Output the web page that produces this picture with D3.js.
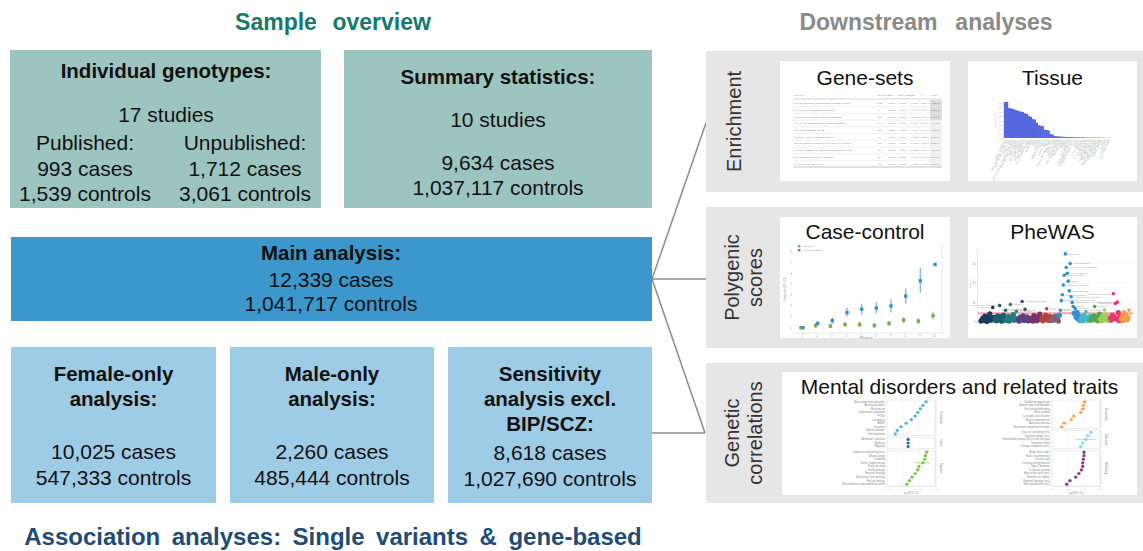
<!DOCTYPE html>
<html>
<head>
<meta charset="utf-8">
<script src="https://cdn.jsdelivr.net/npm/d3@7"></script>
<style>
body { margin: 0; background: #fff; }
svg { display: block; font-family: "Liberation Sans", Arial, sans-serif; }
</style>
</head>
<body>
<div id="container"></div>
<script>
var width = 1143;
var height = 551;

// ---- sample overview texts ----
var genotypeStudies = "17 studies";
var genotypeCols = [
    ["Published:", "993 cases", "1,539 controls"],
    ["Unpublished:", "1,712 cases", "3,061 controls"]
];
var summaryLines = ["10 studies", "9,634 cases", "1,037,117 controls"];
var mainLines = ["12,339 cases", "1,041,717 controls"];
var subTitles = [["Female-only", "analysis:"], ["Male-only", "analysis:"], ["Sensitivity", "analysis excl.", "BIP/SCZ:"]];
var subCounts = [["10,025 cases", "547,333 controls"], ["2,260 cases", "485,444 controls"], ["8,618 cases", "1,027,690 controls"]];

// ---- downstream panels ----
var panelLabels = [["Enrichment"], ["Polygenic", "scores"], ["Genetic", "correlations"]];
var thumbTitles = ["Gene-sets", "Tissue", "Case-control", "PheWAS", "Mental disorders and related traits"];

// gene-set table
var geneSetHeader = ["Gene set", "N genes", "BETA", "BETA STD", "SE", "P", "P bon"];
var geneSetNames = ["GO_CC_NEURON_PROJECTION_POSTSYNAPSE", "GO_BP_SYNAPSE_ORGANIZATION", "GO_CC_SYNAPTIC_MEMBRANE_REGION",
    "GO_MF_TRANSCRIPTION_FACTOR_BINDING", "GO_CC_DENDRITE_SPINE", "GO_BP_AXON_GUIDANCE_SIGNAL",
    "GO_BP_REGULATION_OF_SYNAPTIC_PLASTICITY", "GO_BP_FOREBRAIN_NEURON_DIFFERENTIATION", "REACTOME_NEURONAL_SYSTEM", "GO_CC_SYNAPSE_PART"];
var geneSetN = [382, 96, 211, 48, 152, 61, 118, 77, 27, 540];
var geneSetBeta = [0.2114, 0.3988, 0.2512, 0.4631, 0.2207, 0.3405, 0.2419, 0.2873, 0.5102, 0.1199];
var geneSetP = [2.1e-7, 4.5e-7, 9.8e-7, 2.4e-6, 3.9e-6, 5.2e-6, 7.7e-6, 9.1e-6, 1.2e-5, 1.6e-5];

// tissue enrichment (-log10 P), GTEx tissues
var tissueNames = ["Brain_Cerebellum", "Brain_Cerebellar_Hemisphere", "Brain_Frontal_Cortex_BA9", "Brain_Cortex",
    "Brain_Anterior_cingulate_cortex_BA24", "Brain_Nucleus_accumbens", "Brain_Caudate", "Brain_Putamen", "Brain_Hypothalamus",
    "Brain_Amygdala", "Brain_Hippocampus", "Brain_Spinal_cord", "Brain_Substantia_nigra", "Pituitary", "Nerve_Tibial", "Testis",
    "Ovary", "Uterus", "Cervix_Ectocervix", "Cervix_Endocervix", "Vagina", "Adrenal_Gland", "Thyroid", "Breast_Mammary_Tissue",
    "Artery_Tibial", "Artery_Aorta", "Artery_Coronary", "Adipose_Subcutaneous", "Adipose_Visceral", "Fallopian_Tube", "Bladder",
    "Prostate", "Colon_Sigmoid", "Esophagus_Muscularis", "Esophagus_GE_Junction", "Minor_Salivary_Gland", "Lung", "Spleen",
    "Small_Intestine", "Stomach", "Colon_Transverse", "Kidney_Cortex", "Kidney_Medulla", "Esophagus_Mucosa", "Skin_Sun_Exposed",
    "Skin_Not_Sun_Exposed", "Heart_Atrial_Appendage", "Heart_Left_Ventricle", "Cells_fibroblasts", "Muscle_Skeletal", "Liver",
    "Pancreas", "Whole_Blood", "Cells_lymphocytes"];
var tissueLogP = [4.1, 4.1, 3.4, 3.36, 3.3, 3.2, 3.15, 3.05, 3.0, 2.95, 2.8, 2.75, 2.5, 2.4, 2.15, 2.1, 1.75, 1.45, 1.4, 1.35,
    0.95, 0.9, 0.85, 0.45, 0.4, 0.22, 0.2, 0.18, 0.16, 0.14, 0.13, 0.12, 0.1, 0.1, 0.09, 0.09, 0.08, 0.08, 0.07, 0.07, 0.06,
    0.06, 0.05, 0.05, 0.05, 0.04, 0.04, 0.04, 0.03, 0.03, 0.03, 0.02, 0.02, 0.01];

// case-control: odds ratio by PRS decile
var deciles = [1, 2, 3, 4, 5, 6, 7, 8, 9, 10];
var ccLegend = ["Population", "Psychiatric cases"];
var orGreen = [1, 1.2, 1.15, 1.3, 1.3, 1.2, 1.4, 1.7, 1.6, 2.1];
var orGreenLo = [1, 1.0, 0.95, 1.1, 1.05, 1.0, 1.15, 1.4, 1.35, 1.75];
var orGreenHi = [1, 1.45, 1.4, 1.5, 1.55, 1.45, 1.65, 2.0, 1.9, 2.45];
var orBlue = [1, 1.4, 1.65, 2.4, 2.7, 2.8, 3.0, 3.9, 5.3, 6.8];
var orBlueLo = [1, 1.25, 1.35, 2.0, 2.2, 2.3, 2.4, 3.2, 4.2, 6.75];
var orBlueHi = [1, 1.55, 1.95, 2.85, 3.2, 3.35, 3.6, 4.6, 6.5, 6.85];

// PheWAS: -log10 P per phenotype, by category
var phewasCategories = ["infectious", "neoplasms", "endocrine", "hematopoietic", "neurological", "sense organs", "circulatory",
    "mental disorders", "respiratory", "digestive", "genitourinary", "musculoskeletal", "symptoms"];
var phewasValues = [
    [0.5, 1.2, 2.1, 0.8, 3.0, 1.6, 0.3, 2.6, 1.1, 4.2, 0.9, 1.8, 7.5, 2.4],
    [1.0, 2.2, 0.6, 3.1, 1.5, 8.5, 2.8, 0.4, 1.9, 3.6, 1.2, 6.0],
    [0.7, 1.8, 2.9, 0.5, 9.0, 1.4, 2.3, 3.8, 0.9, 2.0, 5.5, 1.1],
    [1.3, 0.4, 2.5, 1.9, 10.5, 3.2, 0.8, 6.5, 1.6, 2.7, 0.6, 1.0],
    [0.9, 2.0, 1.4, 0.5, 3.3, 1.8, 2.6, 0.7, 1.2, 2.2, 4.0, 1.5],
    [1.6, 0.6, 2.4, 1.1, 3.5, 6.8, 1.9, 0.8, 2.9, 1.3],
    [0.8, 1.7, 2.6, 1.0, 3.0, 1.4, 2.1, 0.5],
    [3.5, 6, 11, 14, 19, 24, 35, 28, 25, 21, 16, 30, 13, 10, 8, 4.5, 7, 2.5, 5, 1.5, 3, 0.8],
    [1.2, 2.5, 0.6, 3.4, 1.8, 5.2, 2.2, 0.9, 1.5, 2.8],
    [0.9, 2.1, 1.5, 3.2, 8.0, 1.2, 2.6, 0.7, 1.9, 4.1],
    [1.5, 0.6, 2.8, 1.9, 6.2, 1.1, 3.5, 2.3, 0.8, 1.6],
    [2.0, 1.0, 3.6, 14.5, 2.5, 9.5, 1.6, 10.2, 4.8, 0.7, 2.9],
    [1.4, 2.6, 0.8, 4.6, 1.9, 3.3, 1.1, 2.2, 6.0]
];
var phewasTopNames = ["Depression", "Mood disorders", "Major depressive disorder", "Anxiety disorder", "Suicidal ideation",
    "Bipolar", "Tobacco use disorder", "Sleep disorders", "Psychogenic disorder", "Substance addiction", "Alcohol-related disorders",
    "Posttraumatic stress disorder", "Adjustment reaction", "Personality disorders", "Fibromyalgia", "Chronic pain", "Migraine",
    "Irritable bowel syndrome", "Obesity", "Asthma", "Back pain", "Headache", "Malaise and fatigue", "Menstrual disorders",
    "Hypothyroidism", "Chronic airway obstruction", "Esophageal reflux", "Dizziness", "Overweight", "Osteoarthrosis"];

// genetic correlations (rg, half width of 95% CI)
var gcFacetNames = [["Psychiatric", "Neuro", "Cognitive"], ["Personality", "Education", "Well-being"]];
var gcTraits = [
    [["Major depressive disorder", "Anxiety disorders", "Neuroticism", "Depressive symptoms", "PTSD", "Loneliness", "ADHD",
        "Insomnia", "Bipolar disorder", "Schizophrenia"],
     ["Alzheimer's disease", "Epilepsy", "Migraine"],
     ["Subjective well-being (rev.)", "Mood swings", "Irritability", "Tense / highly strung", "Worry too long", "Guilty feelings",
        "Nervous feelings", "Sensitivity / hurt feelings", "Fed-up feelings", "Miserableness after embarrassment"]],
    [["Childhood aggression", "Autism spectrum disorder", "Risk-taking behaviour", "Ever smoked", "Cannabis use disorder",
        "Alcohol dependence", "Anorexia nervosa", "Obsessive-compulsive disorder"],
     ["Years of schooling (rev.)", "Cognitive ability (rev.)", "Household income (rev.) in the last year", "Townsend index",
        "College completion (rev.)"],
     ["Body mass index", "Waist circumference", "Chronic pain", "Coronary artery disease", "Type 2 diabetes", "C-reactive protein",
        "Age at first birth (rev.)", "Number of children", "Parental lifespan (rev.)", "Self-rated health (rev.)"]]
];
var gcRg = [
    [[0.61, 0.56, 0.52, 0.48, 0.44, 0.38, 0.30, 0.22, 0.16, 0.13], [0.33, 0.33, 0.33],
     [0.62, 0.60, 0.59, 0.56, 0.50, 0.48, 0.44, 0.39, 0.35, 0.31]],
    [[0.51, 0.49, 0.48, 0.45, 0.34, 0.30, 0.19, 0.15], [0.61, 0.56, 0.53, 0.48, 0.45],
     [0.50, 0.50, 0.49, 0.48, 0.48, 0.46, 0.42, 0.37, 0.28, 0.23]]
];
var gcCi = [
    [[0.03, 0.03, 0.02, 0.03, 0.04, 0.03, 0.03, 0.03, 0.03, 0.02], [0.02, 0.02, 0.02],
     [0.03, 0.03, 0.03, 0.12, 0.03, 0.03, 0.03, 0.03, 0.03, 0.03]],
    [[0.04, 0.03, 0.04, 0.03, 0.04, 0.03, 0.04, 0.03], [0.03, 0.04, 0.17, 0.03, 0.04],
     [0.02, 0.02, 0.02, 0.02, 0.02, 0.03, 0.03, 0.03, 0.03, 0.03]]
];
var gcTicks = [0, 0.25, 0.5, 0.75];

var svg = d3.select("div#container").append("svg")
    .attr("width", width)
    .attr("height", height);

svg.append("rect").attr("width", width).attr("height", height).attr("fill", "#fff");

function addText(g, x, y, txt, size, opts) {
    opts = opts || {};
    return g.append("text")
        .attr("x", x).attr("y", y)
        .attr("text-anchor", opts.anchor || "middle")
        .attr("font-size", size)
        .attr("font-weight", opts.weight || "normal")
        .attr("fill", opts.fill || "#111")
        .style("word-spacing", opts.ws || null)
        .text(txt);
}

// ---- section titles ----
addText(svg, 333, 30, "Sample overview", 23, {weight: "bold", fill: "#17796b", ws: "0.4em"});
addText(svg, 926, 30, "Downstream analyses", 23, {weight: "bold", fill: "#8a8a8a", ws: "0.5em"});
addText(svg, 333, 545, "Association analyses:  Single  variants  &  gene-based", 24, {weight: "bold", fill: "#1f4c77", ws: "0.2em"});

// ---- overview boxes ----
var teal = "#9cc5c0", mainBlue = "#3b97cc", lightBlue = "#9ecbe5";
svg.append("rect").attr("x", 10).attr("y", 50).attr("width", 311).attr("height", 158).attr("fill", teal);
svg.append("rect").attr("x", 344).attr("y", 50).attr("width", 308).attr("height", 158).attr("fill", teal);

addText(svg, 166, 78, "Individual genotypes:", 20.5, {weight: "bold"});
addText(svg, 166, 122, genotypeStudies, 21);
var colX = d3.scalePoint().domain([0, 1]).range([85, 245]);
genotypeCols.forEach(function(col, i) {
    col.forEach(function(line, j) {
        addText(svg, colX(i), 150 + j * 25.5, line, 21);
    });
});
addText(svg, 498, 84, "Summary statistics:", 20.5, {weight: "bold"});
addText(svg, 498, 127, summaryLines[0], 21);
addText(svg, 498, 170, summaryLines[1], 21);
addText(svg, 498, 195, summaryLines[2], 21);

svg.append("rect").attr("x", 11).attr("y", 237).attr("width", 641).attr("height", 84).attr("fill", mainBlue);
addText(svg, 331, 260, "Main analysis:", 20.5, {weight: "bold"});
mainLines.forEach(function(line, j) {
    addText(svg, 331, 287 + j * 24, line, 21);
});

var subX = [11, 230, 448], subW = [205, 204, 204];
subTitles.forEach(function(title, i) {
    svg.append("rect").attr("x", subX[i]).attr("y", 347).attr("width", subW[i]).attr("height", 156).attr("fill", lightBlue);
    var cx = subX[i] + subW[i] / 2;
    title.forEach(function(line, j) {
        addText(svg, cx, 381 + j * 25, line, 20.5, {weight: "bold"});
    });
    var y0 = title.length === 3 ? 460 : 459;
    subCounts[i].forEach(function(line, j) {
        addText(svg, cx, y0 + j * 26, line, 21);
    });
});

// ---- connectors ----
var conn = svg.append("g").attr("stroke", "#8c8c8c").attr("stroke-width", 1.5).attr("fill", "none");
[[652, 279, 706, 123], [652, 279, 706, 279], [652, 279, 705, 433], [652, 433, 705, 433]].forEach(function(l) {
    conn.append("line").attr("x1", l[0]).attr("y1", l[1]).attr("x2", l[2]).attr("y2", l[3]);
});

// ---- downstream panels ----
var panelY = [51, 207, 363], panelH = [141, 141, 140];
panelLabels.forEach(function(lines, i) {
    svg.append("rect").attr("x", 706).attr("y", panelY[i]).attr("width", 437).attr("height", panelH[i]).attr("fill", "#e6e6e6");
    var cy = panelY[i] + panelH[i] / 2;
    var bx = lines.length === 1 ? [741] : [739, 762];
    lines.forEach(function(line, j) {
        svg.append("text")
            .attr("transform", "translate(" + bx[j] + "," + cy + ") rotate(-90)")
            .attr("text-anchor", "middle")
            .attr("font-size", 20)
            .attr("fill", "#333")
            .text(line);
    });
});

var thumbs = [[780, 61, 170, 120], [968, 61, 169, 120], [780, 217, 170, 121], [968, 217, 169, 121], [782, 372, 355, 123]];
var titleY = [85, 85, 239, 239, 394];
thumbs.forEach(function(t, i) {
    svg.append("rect").attr("x", t[0]).attr("y", t[1]).attr("width", t[2]).attr("height", t[3]).attr("fill", "#fff");
    addText(svg, t[0] + t[2] / 2, titleY[i], thumbTitles[i], 21, {fill: "#111"});
});

var tiny = "#999";

// gene-set table
(function() {
    var g = svg.append("g");
    var colPos = [793, 877, 887, 898, 910, 920, 930, 942];
    var rowY = d3.scaleBand().domain(d3.range(geneSetNames.length)).range([100, 167]);
    geneSetHeader.forEach(function(h, c) {
        addText(g, colPos[c] + 1, 96, h, 2.4, {anchor: "start", fill: "#888"});
    });
    g.append("line").attr("x1", 793).attr("x2", 942).attr("y1", 99).attr("y2", 99).attr("stroke", "#bbb").attr("stroke-width", 0.6);
    geneSetNames.forEach(function(name, r) {
        var y = rowY(r);
        g.append("rect").attr("x", 930).attr("y", y).attr("width", 12).attr("height", rowY.bandwidth())
            .attr("fill", r < 3 ? "#dcdcdc" : "#f0f0f0");
        g.append("line").attr("x1", 793).attr("x2", 942).attr("y1", y + rowY.bandwidth()).attr("y2", y + rowY.bandwidth())
            .attr("stroke", "#e4e4e4").attr("stroke-width", 0.6);
        var pbon = Math.min(1, geneSetP[r] * 7246);
        var cells = [name, geneSetN[r], geneSetBeta[r].toFixed(4), (geneSetBeta[r] / 10).toFixed(4),
            (geneSetBeta[r] / 5.2).toFixed(4), geneSetP[r].toExponential(2), pbon < 1 ? pbon.toExponential(2) : "1"];
        cells.forEach(function(v, c) {
            addText(g, colPos[c] + 1, y + rowY.bandwidth() / 2 + 0.9, v, 2.4, {anchor: "start", fill: "#888"});
        });
    });
    g.append("line").attr("x1", 793).attr("x2", 942).attr("y1", 167).attr("y2", 167).attr("stroke", "#ccc").attr("stroke-width", 1);
})();

// tissue bar chart
(function() {
    var g = svg.append("g");
    var x = d3.scaleBand().domain(tissueNames).range([1004, 1111]).padding(0);
    var y = d3.scaleLinear().domain([0, 4.2]).range([138, 101]);
    g.selectAll("rect.bar").data(tissueLogP).enter().append("rect")
        .attr("class", "bar")
        .attr("x", function(d, i) { return x(tissueNames[i]); })
        .attr("y", function(d) { return y(d); })
        .attr("width", x.bandwidth() + 0.3)
        .attr("height", function(d) { return 138 - y(d); })
        .attr("fill", "#5568df");
    var ax = g.append("g").attr("transform", "translate(1003,0)")
        .call(d3.axisLeft(y).ticks(8).tickSize(1).tickPadding(0.5));
    ax.selectAll("text").attr("font-size", 2.2).attr("fill", tiny);
    ax.selectAll("line,path").attr("stroke", "#bbb").attr("stroke-width", 0.4);
    g.append("text").attr("transform", "translate(996,120) rotate(-90)").attr("text-anchor", "middle")
        .attr("font-size", 2.4).attr("fill", tiny).text("-log10 P-value");
    tissueNames.forEach(function(n) {
        g.append("text")
            .attr("transform", "translate(" + (x(n) + x.bandwidth() / 2) + ",140) rotate(-65)")
            .attr("text-anchor", "end").attr("font-size", 2.6).attr("fill", "#aaa").text(n);
    });
})();

// case-control PRS decile plot
(function() {
    var g = svg.append("g");
    var x = d3.scaleLinear().domain([1, 10]).range([802, 934]);
    var y = d3.scaleLinear().domain([0.7, 8.4]).range([331, 247]);
    g.append("line").attr("x1", 792).attr("x2", 942).attr("y1", 333).attr("y2", 333).attr("stroke", "#ccc").attr("stroke-width", 0.5);
    g.append("line").attr("x1", 942).attr("x2", 942).attr("y1", 244).attr("y2", 333).attr("stroke", "#ccc").attr("stroke-width", 0.5);
    var ay = g.append("g").attr("transform", "translate(793,0)").call(d3.axisLeft(y).tickValues(d3.range(1, 9)).tickSize(0).tickPadding(1));
    ay.selectAll("text").attr("font-size", 2.6).attr("fill", tiny);
    ay.select("path").remove();
    var axx = g.append("g").attr("transform", "translate(0,334)").call(d3.axisBottom(x).tickValues(deciles).tickSize(0).tickPadding(1.5));
    axx.selectAll("text").attr("font-size", 2.6).attr("fill", tiny);
    axx.select("path").remove();
    g.append("text").attr("x", 866).attr("y", 339).attr("text-anchor", "middle").attr("font-size", 2.6).attr("fill", tiny).text("PRS decile");
    g.append("text").attr("transform", "translate(786,289) rotate(-90)").attr("text-anchor", "middle")
        .attr("font-size", 2.6).attr("fill", tiny).text("Odds ratio (95% CI)");
    var series = [
        {or: orGreen, lo: orGreenLo, hi: orGreenHi, color: "#72b043", dx: -1},
        {or: orBlue, lo: orBlueLo, hi: orBlueHi, color: "#3a8fcf", dx: 1}
    ];
    series.forEach(function(s) {
        deciles.forEach(function(d, i) {
            g.append("line").attr("x1", x(d) + s.dx).attr("x2", x(d) + s.dx).attr("y1", y(s.lo[i])).attr("y2", y(s.hi[i]))
                .attr("stroke", s.color).attr("stroke-width", 1.4).attr("opacity", 0.6);
            g.append("rect").attr("x", x(d) + s.dx - 1.7).attr("y", y(s.or[i]) - 1.7).attr("width", 3.4).attr("height", 3.4)
                .attr("fill", s.color);
        });
    });
    ccLegend.forEach(function(l, i) {
        g.append("rect").attr("x", 798).attr("y", 245 + i * 4).attr("width", 2.4).attr("height", 2.4).attr("fill", series[i].color);
        addText(g, 803, 247.3 + i * 4, l, 2.4, {anchor: "start", fill: "#888"});
    });
})();

// PheWAS plot
(function() {
    var g = svg.append("g");
    var palette = ["#1c3a5e", "#1b5c70", "#1e7f78", "#5a3f85", "#7d2f6b", "#b4443a", "#7a6277", "#2e8fd6", "#45b5c8",
        "#53a54c", "#9ccc5c", "#e8336c", "#f39a45"];
    var pts = [];
    phewasValues.forEach(function(vals, c) {
        vals.forEach(function(v) { pts.push({cat: c, v: v, i: pts.length}); });
    });
    var x = d3.scaleLinear().domain([0, pts.length - 1]).range([981, 1129]);
    var y = d3.scaleLinear().domain([0, 37]).range([322, 250]);
    [10, 20, 30].forEach(function(t) {
        g.append("line").attr("x1", 978).attr("x2", 1133).attr("y1", y(t)).attr("y2", y(t)).attr("stroke", "#eee").attr("stroke-width", 0.6);
    });
    var ay = g.append("g").attr("transform", "translate(977,0)").call(d3.axisLeft(y).tickValues([0, 10, 20, 30]).tickSize(1).tickPadding(0.5));
    ay.selectAll("text").attr("font-size", 2.6).attr("fill", tiny);
    ay.selectAll("line,path").attr("stroke", "#bbb").attr("stroke-width", 0.4);
    g.append("text").attr("transform", "translate(971,284) rotate(-90)").attr("text-anchor", "middle")
        .attr("font-size", 2.4).attr("fill", tiny).text("-log10(p)");
    g.append("line").attr("x1", 978).attr("x2", 1133).attr("y1", y(4.5)).attr("y2", y(4.5))
        .attr("stroke", "#f28080").attr("stroke-width", 2).attr("opacity", 0.7);
    g.selectAll("circle").data(pts).enter().append("circle")
        .attr("cx", function(d) { return x(d.i); })
        .attr("cy", function(d) { return y(d.v); })
        .attr("r", function(d) { return d.v > 5 ? 1.8 : 2.6; })
        .attr("fill", function(d) { return palette[d.cat]; });
    var top = pts.filter(function(d) { return d.v >= 5.5; }).sort(function(a, b) { return b.v - a.v; });
    top.forEach(function(d, k) {
        var px = x(d.i);
        var left = px > 1095 || (d.cat !== 7 && k % 3 === 2);
        addText(g, px + (left ? -3 : 3), y(d.v) + 0.8, phewasTopNames[k % phewasTopNames.length], 2.4,
            {anchor: left ? "end" : "start", fill: "#999"});
    });
})();

// genetic correlation forest plots
(function() {
    var palettes = [["#56b0e8", "#2a6fb0", "#7cc54f"], ["#f6a24f", "#8dd3f0", "#8e3b80"]];
    var layout = [{labelX: 885, x0: 887, x1: 935}, {labelX: 1050, x0: 1052, x1: 1100}];
    layout.forEach(function(L, p) {
        var g = svg.append("g");
        var x = d3.scaleLinear().domain([0, 0.75]).range([L.x0, L.x1]);
        var counts = gcTraits[p].map(function(t) { return t.length; });
        var step = (486 - 400 - 4) / d3.sum(counts);
        var y0 = 400;
        gcTraits[p].forEach(function(traits, f) {
            var h = traits.length * step;
            var yb = d3.scaleBand().domain(d3.range(traits.length)).range([y0, y0 + h]);
            gcTicks.forEach(function(t) {
                g.append("line").attr("x1", x(t)).attr("x2", x(t)).attr("y1", y0).attr("y2", y0 + h)
                    .attr("stroke", "#eee").attr("stroke-width", 0.5);
            });
            g.append("rect").attr("x", L.x0).attr("y", y0).attr("width", L.x1 - L.x0).attr("height", h)
                .attr("fill", "none").attr("stroke", "#ddd").attr("stroke-width", 0.5);
            g.append("line").attr("x1", L.x1 + 1).attr("x2", L.x1 + 1).attr("y1", y0).attr("y2", y0 + h)
                .attr("stroke", "#ccc").attr("stroke-width", 0.5);
            g.append("text").attr("transform", "translate(" + (L.x1 + 5) + "," + (y0 + h / 2) + ") rotate(90)")
                .attr("text-anchor", "middle").attr("font-size", 2.6).attr("fill", "#888").text(gcFacetNames[p][f]);
            traits.forEach(function(t, r) {
                var cy = yb(r) + yb.bandwidth() / 2;
                var rg = gcRg[p][f][r], ci = gcCi[p][f][r];
                addText(g, L.labelX, cy + 0.9, t, 2.7, {anchor: "end", fill: "#888"});
                g.append("line").attr("x1", x(rg - ci)).attr("x2", x(rg + ci)).attr("y1", cy).attr("y2", cy)
                    .attr("stroke", palettes[p][f]).attr("stroke-width", 0.9).attr("opacity", 0.7);
                g.append("circle").attr("cx", x(rg)).attr("cy", cy).attr("r", 1.6).attr("fill", palettes[p][f]);
            });
            y0 += h + 2;
        });
        var ax = g.append("g").attr("transform", "translate(0,486)").call(d3.axisBottom(x).tickValues(gcTicks).tickSize(0.8).tickPadding(1));
        ax.selectAll("text").attr("font-size", 2.4).attr("fill", tiny);
        ax.selectAll("line,path").attr("stroke", "#ccc").attr("stroke-width", 0.4);
        g.append("text").attr("x", (L.x0 + L.x1) / 2).attr("y", 494).attr("text-anchor", "middle")
            .attr("font-size", 2.8).attr("fill", "#888").text("rg (95% CI)");
    });
})();
</script>
</body>
</html>
